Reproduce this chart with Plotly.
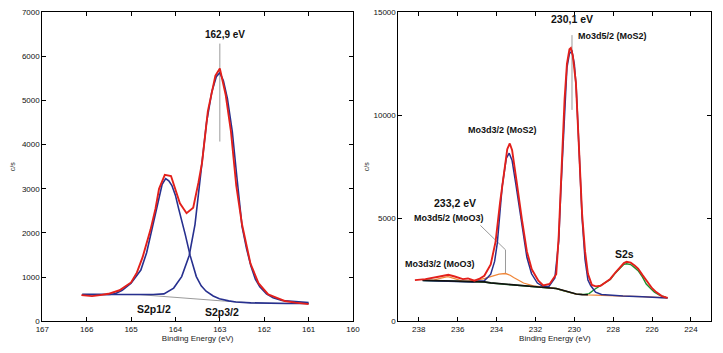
import plotly.graph_objects as go

# ---------------- Left panel: S2p ----------------
s_env_x = [166.12, 165.88, 165.7, 165.51, 165.26, 165.0, 164.87, 164.74, 164.56, 164.45, 164.37, 164.24, 164.1, 164.0,
           163.9, 163.75, 163.6, 163.48, 163.4, 163.27, 163.1, 163.0, 162.87, 162.75, 162.63, 162.5, 162.31, 162.13,
           161.91, 161.7, 161.54, 161.3, 161.0]
s_env_y = [590, 568, 590, 620, 700, 878, 1100, 1450, 2080, 2550, 3000, 3316, 3290, 3000,
           2670, 2447, 2573, 3150, 3600, 4760, 5563, 5725, 5137, 4300, 3073, 2190, 1305, 862,
           605, 520, 457, 420, 385]

s2p12_x = [166.1, 165.8, 165.5, 165.37, 165.2, 165.0, 164.78, 164.65, 164.56, 164.45, 164.37, 164.3, 164.22, 164.15,
           164.08, 164.0, 163.93, 163.85, 163.78, 163.67, 163.53, 163.42, 163.31, 163.15, 163.01, 162.8, 162.64,
           162.3, 162.0, 161.5, 161.0]
s2p12_y = [605, 600, 605, 619, 700, 862, 1158, 1550, 1967, 2450, 2850, 3100, 3230, 3180,
           3072, 2850, 2557, 2250, 1967, 1490, 1010, 800, 678, 570, 508, 460, 435,
           415, 405, 400, 400]

s2p32_x = [166.1, 165.5, 165.0, 164.5, 164.26, 164.04, 163.86, 163.69, 163.56, 163.44, 163.3, 163.18, 163.08, 163.0,
           162.92, 162.83, 162.72, 162.62, 162.5, 162.4, 162.3, 162.2, 162.1, 161.95, 161.8, 161.6, 161.3, 161.0]
s2p32_y = [605, 600, 600, 605, 619, 750, 1010, 1490, 2190, 3290, 4500, 5200, 5540, 5630,
           5450, 5050, 4300, 3300, 2150, 1650, 1250, 950, 780, 620, 530, 470, 440, 420]

s_bg_x = [166.1, 164.8, 162.9, 162.2, 161.0]
s_bg_y = [610, 600, 455, 410, 400]

# ---------------- Right panel: Mo3d ----------------
mo_env_x = [238.2, 237.66, 236.99, 236.48, 236.15, 235.73, 235.47, 235.14, 234.9, 234.63, 234.3, 234.05, 233.82,
            233.62, 233.45, 233.32, 233.2, 232.98, 232.85, 232.7, 232.44, 232.19, 231.85, 231.6, 231.27, 230.93,
            230.8, 230.7, 230.6, 230.5, 230.38, 230.25, 230.18, 230.08, 229.92, 229.75, 229.6, 229.45, 229.3,
            229.1, 228.9, 228.65, 228.4, 228.15, 227.9, 227.65, 227.45, 227.31, 227.1, 226.9, 226.72, 226.5,
            226.22, 226.0, 225.79, 225.5, 225.2]
mo_env_y = [1995, 2043, 2156, 2250, 2170, 2043, 2075, 1967, 2050, 2204, 2754, 3863, 5758,
            7180, 8350, 8630, 8300, 6863, 5900, 4967, 3389, 2517, 1967, 1730, 1806, 2280,
            4175, 6500, 8500, 10800, 12500, 13200, 13260, 12900, 11600, 8441, 5200, 3400, 2300,
            1760, 1690, 1720, 1880, 2050, 2350, 2600, 2820, 2881, 2840, 2700, 2550, 2250,
            1886, 1600, 1412, 1220, 1128]

mos2_x = [237.8, 236.0, 235.2, 234.9, 234.63, 234.46, 234.3, 234.1, 233.96, 233.71, 233.5, 233.35, 233.2, 233.0,
          232.85, 232.65, 232.44, 232.2, 231.9, 231.6, 231.3, 231.0, 230.8, 230.7, 230.6, 230.5, 230.38, 230.25,
          230.12, 230.0, 229.9, 229.75, 229.6, 229.45, 229.3, 229.16, 228.91, 228.6, 228.2, 227.5, 226.5, 225.8, 225.2]
mos2_y = [1970, 1920, 1900, 1950, 1967, 2123, 2280, 2900, 3800, 6545, 7900, 8156, 7800, 6600,
          5600, 4300, 3100, 2300, 1850, 1680, 1700, 2100, 3900, 6200, 8300, 10500, 12300, 13000,
          13104, 12500, 11300, 8200, 5000, 3000, 2000, 1730, 1412, 1300, 1265, 1220, 1190, 1160, 1130]

mo_bg_x = [237.8, 236.5, 235.5, 234.63, 234.3, 233.45, 232.44, 231.27, 230.93, 230.59, 230.26, 229.9, 229.6, 229.3]
mo_bg_y = [1985, 1960, 1930, 1910, 1860, 1800, 1697, 1616, 1590, 1500, 1400, 1320, 1290, 1280]

s2s_x = [237.8, 236.5, 235.5, 234.63, 234.3, 233.45, 232.44, 231.27, 230.93, 230.59, 230.26, 229.9, 229.5, 229.24,
         228.95, 228.66, 228.4, 228.15, 227.9, 227.65, 227.45, 227.31, 227.1, 226.9, 226.72, 226.5, 226.3, 226.05,
         225.88, 225.6, 225.3]
s2s_y = [1975, 1950, 1920, 1900, 1850, 1790, 1690, 1610, 1585, 1490, 1395, 1315, 1300, 1340,
         1550, 1720, 1860, 2030, 2320, 2570, 2760, 2787, 2750, 2600, 2450, 2150, 1800, 1560,
         1412, 1250, 1160]

moo3_x = [237.8, 237.2, 236.8, 236.5, 236.2, 235.8, 235.5, 235.2, 234.97, 234.6, 234.3, 233.87, 233.54, 233.3, 233.12,
          232.85, 232.61, 232.11, 231.6, 231.2, 230.9, 230.6, 230.26, 229.9, 229.3, 228.6, 228.2, 227.5, 226.5,
          225.8, 225.2]
moo3_y = [1990, 2010, 2100, 2160, 2080, 1960, 1940, 1950, 1990, 2080, 2156, 2280, 2313, 2230, 2123,
          1980, 1853, 1711, 1640, 1610, 1580, 1495, 1395, 1315, 1280, 1270, 1262, 1218, 1188, 1158, 1128]

left_xticks = [167, 166, 165, 164, 163, 162, 161, 160]
left_yticks = [0, 1000, 2000, 3000, 4000, 5000, 6000, 7000]
right_xticks = [238, 236, 234, 232, 230, 228, 226, 224]
right_yticks = [0, 5000, 10000, 15000]

RED = "#e3201b"
BLUE = "#27308f"
ORANGE = "#f0873a"
GREEN = "#1f8f2f"
GREY = "#9a9a9a"
FONT = "Liberation Sans, Arial, sans-serif"

fig = go.Figure()

def line(x, y, color, width, xa="x", ya="y"):
    fig.add_trace(go.Scatter(x=x, y=y, mode="lines", line=dict(color=color, width=width),
                             xaxis=xa, yaxis=ya, hoverinfo="skip", showlegend=False))

# left
line(s_bg_x, s_bg_y, GREY, 1)
line([163.0, 163.0], [6290, 4070], GREY, 1)
line(s2p12_x, s2p12_y, BLUE, 1.6)
line(s2p32_x, s2p32_y, BLUE, 1.6)
line(s_env_x, s_env_y, RED, 1.9)

# right
line([230.12, 230.12], [13890, 10260], GREY, 1, "x2", "y2")
line([234.83, 233.54, 233.54], [4649, 3464, 2313], GREY, 1, "x2", "y2")
line(s2s_x, s2s_y, GREEN, 1.4, "x2", "y2")
line(moo3_x, moo3_y, ORANGE, 1.3, "x2", "y2")
line(mos2_x, mos2_y, BLUE, 1.5, "x2", "y2")
line(mo_bg_x, mo_bg_y, "#111111", 1.6, "x2", "y2")
line(mo_env_x, mo_env_y, RED, 1.9, "x2", "y2")

axis_common = dict(showline=True, linecolor="black", linewidth=1, mirror="ticks", ticks="inside",
                   ticklen=4, tickcolor="black", showgrid=False, zeroline=False, tickformat="d",
                   tickfont=dict(family=FONT, size=8, color="#111"))

fig.update_layout(
    width=723, height=353, margin=dict(l=0, r=0, t=0, b=0),
    paper_bgcolor="white", plot_bgcolor="white",
    xaxis=dict(domain=[0.0498, 0.488], range=[167, 160], tickvals=left_xticks,
               title=dict(text="Binding Energy (eV)", font=dict(family=FONT, size=8, color="#222"), standoff=2),
               anchor="y", **axis_common),
    yaxis=dict(domain=[0.078, 0.976], range=[0, 7000], tickvals=left_yticks,
               title=dict(text="c/s", font=dict(family=FONT, size=7, color="#222"), standoff=5),
               anchor="x", **axis_common),
    xaxis2=dict(domain=[0.552, 0.9935], range=[239.05, 222.95], tickvals=right_xticks,
                title=dict(text="Binding Energy (eV)", font=dict(family=FONT, size=8, color="#222"), standoff=2),
                anchor="y2", **axis_common),
    yaxis2=dict(domain=[0.078, 0.976], range=[0, 15000], tickvals=right_yticks,
                title=dict(text="c/s", font=dict(family=FONT, size=7, color="#222"), standoff=3),
                anchor="x2", **axis_common),
)

def label(x, y, text, size, xr="x", yr="y", bold=True):
    fig.add_annotation(x=x, y=y, xref=xr, yref=yr, text=("<b>%s</b>" % text) if bold else text,
                       showarrow=False, font=dict(family=FONT, size=size, color="#111"),
                       xanchor="center", yanchor="middle")

label(162.88, 6486, "162,9 eV", 10)
label(164.49, 281, "S2p1/2", 10.5)
label(162.96, 214, "S2p3/2", 10.5)

label(230.14, 14650, "230,1 eV", 10.5, "x2", "y2")
label(228.04, 13863, "Mo3d5/2 (MoS2)", 9, "x2", "y2")
label(233.68, 9265, "Mo3d3/2 (MoS2)", 9, "x2", "y2")
label(236.15, 5758, "233,2 eV", 10.5, "x2", "y2")
label(236.42, 5028, "Mo3d5/2 (MoO3)", 9, "x2", "y2")
label(236.92, 2754, "Mo3d3/2 (MoO3)", 9, "x2", "y2")
label(227.43, 3261, "S2s", 10.5, "x2", "y2")

fig.write_html("out.html")
